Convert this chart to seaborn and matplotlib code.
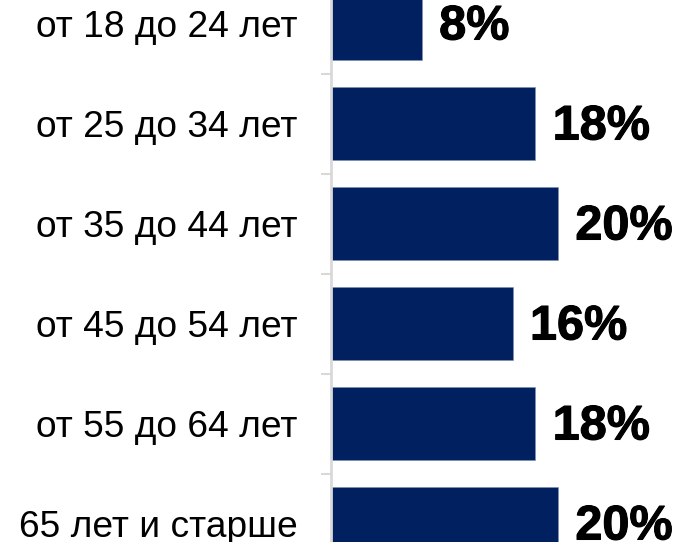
import matplotlib
matplotlib.use("Agg")
import matplotlib.pyplot as plt
import matplotlib.patheffects as pe
import seaborn as sns
import pandas as pd
import numpy as np

categories = ["от 18 до 24 лет", "от 25 до 34 лет", "от 35 до 44 лет",
              "от 45 до 54 лет", "от 55 до 64 лет", "65 лет и старше"]
values = [8, 18, 20, 16, 18, 20]
value_labels = ["8%", "18%", "20%", "16%", "18%", "20%"]

df = pd.DataFrame({"cat": categories, "val": values})

sns.set_theme(style="white")
plt.rcParams["font.family"] = ["Liberation Sans", "DejaVu Sans"]

fig = plt.figure(figsize=(6.77, 5.42), dpi=100)
W, H = 677, 542
ax = fig.add_axes([331 / W, 0, 340.5 / W, 1])

sns.barplot(data=df, y="cat", x="val", orient="h", color="#002060",
            saturation=1, width=0.73, ax=ax, edgecolor="#7f8fb0", linewidth=0.4)

ax.set_xlim(0, 30)
ax.set_ylim(5.185, -0.235)
ax.set_xlabel("")
ax.set_ylabel("")
ax.set_xticks([])
for s in ["top", "right", "bottom"]:
    ax.spines[s].set_visible(False)
ax.spines["left"].set_color("#D9D9D9")
ax.spines["left"].set_linewidth(2)

ax.set_yticks(range(len(categories)))
ax.set_yticklabels(categories, fontsize=26.7)
ax.tick_params(axis="y", which="major", left=False, length=0, pad=24, colors="black")
ax.set_yticks(np.arange(0.5, len(categories) - 0.5, 1), minor=True)
ax.tick_params(axis="y", which="minor", left=True, length=7.5, width=1.5, color="#D9D9D9")

for i, (v, lab) in enumerate(zip(values, value_labels)):
    ax.annotate(lab, xy=(v, i), xytext=(12.5, -2.5), textcoords="offset points",
                ha="left", va="center", fontsize=35, fontweight="bold", color="black",
                path_effects=[pe.withStroke(linewidth=0.8, foreground="black")])

fig.savefig("out.png", dpi=100)
